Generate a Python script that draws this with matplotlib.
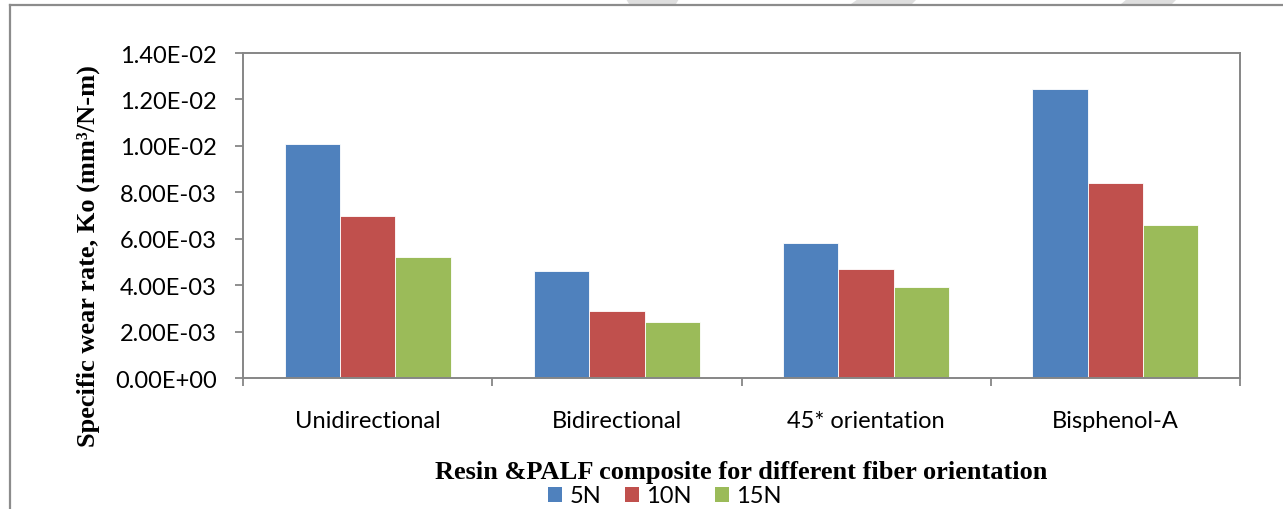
import numpy as np
import matplotlib
matplotlib.use("Agg")
import matplotlib.pyplot as plt
from matplotlib.patches import Patch, Polygon
from matplotlib.lines import Line2D

categories = ["Unidirectional", "Bidirectional", "45* orientation", "Bisphenol-A"]
loads = ["5N", "10N", "15N"]
wear_5n = [0.0101, 0.0046, 0.0058, 0.01245]
wear_10n = [0.0070, 0.0029, 0.0047, 0.0084]
wear_15n = [0.0052, 0.0024, 0.0039, 0.0066]
y_ticks = [0.0, 0.002, 0.004, 0.006, 0.008, 0.010, 0.012, 0.014]

colors = ["#4F81BD", "#C0504D", "#9BBB59"]
axis_grey = "#868686"
tick_font = "Lato"
serif_font = "Liberation Serif"

W, H = 1283, 510
fig = plt.figure(figsize=(W / 100, H / 100), dpi=100)
fig.patch.set_facecolor("white")

# outer frame (left and top edges only are visible)
fig.add_artist(Line2D([10 / W, 10 / W], [0, 1 - 6 / H], color="#8c8c8c", lw=1.6,
                      transform=fig.transFigure))
fig.add_artist(Line2D([10 / W, 1], [1 - 6 / H, 1 - 6 / H], color="#8c8c8c", lw=1.6,
                      transform=fig.transFigure))
# faint grey shapes peeking in over the top edge
for pts in ([(626, 0), (679, 0), (676, 5), (629, 5)],
            [(858, 0), (917, 0), (912, 5), (851, 5)],
            [(1127, 0), (1177, 0), (1172, 5), (1121, 5)]):
    fig.add_artist(Polygon([(x / W, 1 - y / H) for x, y in pts], closed=True,
                           facecolor="#dedede", edgecolor="none",
                           transform=fig.transFigure))

ax = fig.add_axes([243 / W, 1 - 379 / H, (1240 - 243) / W, (379 - 54) / H])

x = np.arange(len(categories))
bw = 1 / 4.5
for i, (vals, lab) in enumerate(zip([wear_5n, wear_10n, wear_15n], loads)):
    ax.bar(x + (i - 1) * bw, vals, width=bw, color=colors[i], edgecolor="white",
           linewidth=0.6, label=lab, zorder=2)

ax.set_xlim(-0.5, len(categories) - 0.5)
ax.set_ylim(0, 0.014)
ax.set_yticks(y_ticks)
ax.set_yticklabels(["{:.2E}".format(v) for v in y_ticks], fontfamily=tick_font,
                   fontsize=17, color="black")

ax.set_xticks(np.arange(-0.5, len(categories)))
ax.set_xticklabels([])
ax.set_xticks(x, minor=True)
ax.set_xticklabels(categories, minor=True, fontfamily=tick_font, fontsize=17)
ax.tick_params(axis="x", which="major", length=6, width=1.3, color=axis_grey,
               direction="out")
ax.tick_params(axis="x", which="minor", length=0, pad=23)
ax.tick_params(axis="y", length=6, width=1.3, color=axis_grey, direction="out",
               pad=13)

for sp in ax.spines.values():
    sp.set_color(axis_grey)
    sp.set_linewidth(1.4)

fig.text(88 / W, 1 - 256 / H, "Specific wear rate, Ko (mm\u00b3/N-m)", rotation=90,
         ha="center", va="center", fontfamily=serif_font, fontweight="bold",
         fontsize=19)
fig.text(741 / W, 1 - 473 / H, "Resin &PALF composite for different fiber orientation",
         ha="center", va="center", fontfamily=serif_font, fontweight="bold",
         fontsize=19)

handles = [Patch(facecolor=c, edgecolor="none") for c in colors]
fig.legend(handles, loads, loc="center", bbox_to_anchor=(665 / W, 1 - 497 / H),
           ncol=3, frameon=False, handlelength=0.6, handleheight=0.6,
           handletextpad=0.3, columnspacing=1.0,
           prop={"family": tick_font, "size": 17})

fig.savefig("out.png", dpi=100, facecolor="white")
